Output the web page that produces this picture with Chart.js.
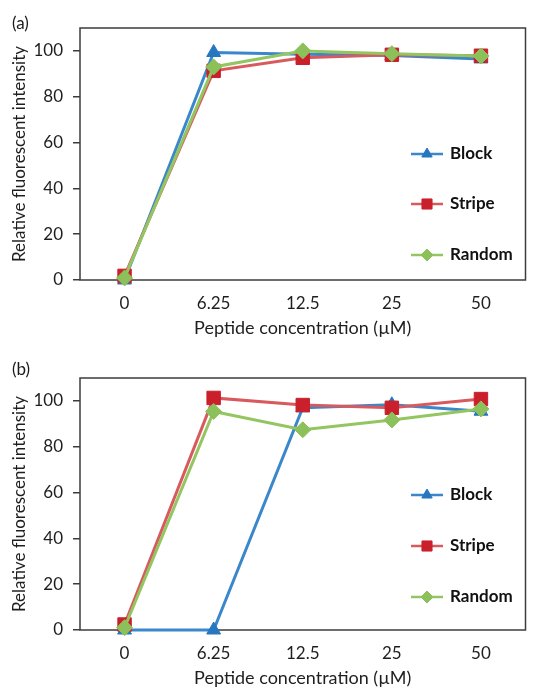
<!DOCTYPE html>
<html>
<head>
<meta charset="utf-8">
<script src="https://cdn.jsdelivr.net/npm/chart.js@4.4.1/dist/chart.umd.min.js"></script>
<style>
  body { margin: 0; background: #fff; width: 536px; height: 689px; position: relative; overflow: hidden; font-family: Lato, sans-serif; }
  .panel { position: absolute; left: 0; width: 536px; height: 339px; }
  .tag { position: absolute; left: 12px; font: 17px Lato, sans-serif; color: #1a1a1a; line-height: 20px; }
</style>
</head>
<body>
<div class="panel" style="top:0"><canvas id="chartA"></canvas></div>
<div class="panel" style="top:350px"><canvas id="chartB"></canvas></div>
<div class="tag" style="top:13px">(a)</div>
<div class="tag" style="top:359px">(b)</div>
<script>
const concentrations = ['0', '6.25', '12.5', '25', '50'];
const seriesNames = ['Block', 'Stripe', 'Random'];
const yTickValues = [0, 20, 40, 60, 80, 100];

// panel (a)
const blockA = [0, 99.3, 98.5, 98, 96.5];
const stripeA = [1.8, 91.3, 97, 98.3, 97.9];
const randomA = [0.9, 93, 100, 98.8, 97.8];

// panel (b)
const blockB = [0, 0, 97, 98.3, 95.5];
const stripeB = [2.4, 101.3, 98.2, 97, 100.8];
const randomB = [1, 95.4, 87.4, 91.7, 96.5];

const styles = {
  Block:  { line: '#3a87cc', fill: '#2676c0', shape: 'triangle', r: 8 },
  Stripe: { line: '#d85a5e', fill: '#c9202b', shape: 'rect', r: 9.5 },
  Random: { line: '#93c660', fill: '#8cc05a', shape: 'rectRot', r: 8 }
};

const textColor = '#1e1e1e';

function makeDatasets(block, stripe, random) {
  return [block, stripe, random].map((vals, i) => {
    const s = styles[seriesNames[i]];
    return {
      label: seriesNames[i],
      data: vals,
      borderColor: s.line,
      backgroundColor: s.fill,
      pointBackgroundColor: s.fill,
      pointBorderColor: s.fill,
      pointStyle: s.shape,
      pointRadius: s.r,
      pointHoverRadius: s.r,
      pointBorderWidth: 1,
      borderWidth: 3,
      tension: 0,
      order: 2 - i,   // Random on top, like the original
      clip: false
    };
  });
}

// box round the plot area
const framePlugin = {
  id: 'frame',
  beforeDatasetsDraw(chart) {
    const a = chart.chartArea;
    const ctx = chart.ctx;
    ctx.save();
    ctx.strokeStyle = '#3c3c3c';
    ctx.lineWidth = 1.5;
    ctx.strokeRect(a.left, a.top, a.right - a.left, a.bottom - a.top);
    ctx.restore();
  }
};

// legend inside the plot, one row per series
const keyPlugin = {
  id: 'seriesKey',
  afterDatasetsDraw(chart, args, opts) {
    const {ctx, chartArea} = chart;
    ctx.save();
    chart.data.datasets.forEach((ds, i) => {
      const x0 = chartArea.left + opts.x;
      const y = chartArea.top + opts.rows[i];
      ctx.strokeStyle = ds.borderColor;
      ctx.lineWidth = 2.5;
      ctx.beginPath();
      ctx.moveTo(x0, y);
      ctx.lineTo(x0 + 32, y);
      ctx.stroke();
      ctx.fillStyle = ds.pointBackgroundColor;
      ctx.strokeStyle = ds.pointBorderColor;
      ctx.lineWidth = 1;
      Chart.helpers.drawPoint(ctx, { pointStyle: ds.pointStyle, radius: ds.pointRadius * 0.75, borderWidth: 1, rotation: 0 }, x0 + 16, y);
      ctx.fillStyle = '#111';
      ctx.font = 'bold 17px Lato, sans-serif';
      ctx.textBaseline = 'middle';
      ctx.textAlign = 'left';
      ctx.fillText(ds.label, x0 + 39, y);
    });
    ctx.restore();
  }
};

function makeChart(id, datasets, keyRows) {
  return new Chart(document.getElementById(id), {
    type: 'line',
    data: { labels: concentrations, datasets: datasets },
    options: {
      responsive: true,
      maintainAspectRatio: false,
      animation: false,
      layout: { padding: { top: 28, right: 1, left: 0, bottom: 0 } },
      plugins: {
        legend: { display: false },
        tooltip: { enabled: false },
        seriesKey: { x: 331, rows: keyRows }
      },
      scales: {
        x: {
          offset: true,
          border: { display: false },
          grid: { display: false, drawTicks: false },
          ticks: { color: textColor, font: { family: 'Lato', size: 17 }, padding: 13, maxRotation: 0 },
          title: { display: true, text: 'Peptide concentration (\u00b5M)', color: textColor, font: { family: 'Lato', size: 18 }, padding: { top: 0, bottom: 0 } },
          afterFit: s => { s.height = 59; }
        },
        y: {
          min: 0,
          max: 110,
          border: { display: false },
          grid: { drawOnChartArea: false, drawTicks: true, tickLength: 7, color: '#3c3c3c', lineWidth: 1.5 },
          ticks: { stepSize: 20, color: textColor, font: { family: 'Lato', size: 17 }, padding: 10 },
          afterBuildTicks: s => { s.ticks = yTickValues.map(v => ({ value: v })); },
          title: { display: true, text: 'Relative fluorescent intensity', color: textColor, font: { family: 'Lato', size: 17 }, padding: { top: 9, bottom: 0 } },
          afterFit: s => { s.width = 80; }
        }
      }
    },
    plugins: [framePlugin, keyPlugin]
  });
}

makeChart('chartA', makeDatasets(blockA, stripeA, randomA), [126, 176, 227]);
makeChart('chartB', makeDatasets(blockB, stripeB, randomB), [117, 168, 219]);
</script>
</body>
</html>
